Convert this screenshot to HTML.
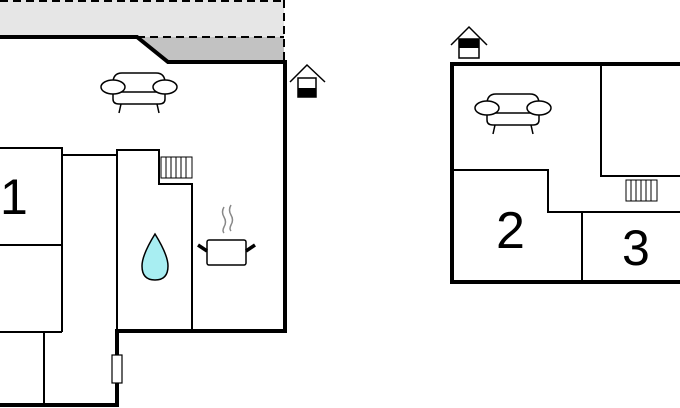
<!DOCTYPE html>
<html><head><style>
html,body{margin:0;padding:0;background:#fff;}
svg{display:block}
text{font-family:"Liberation Sans",sans-serif;fill:#000}
</style></head><body>
<svg width="680" height="408" viewBox="0 0 680 408" xmlns="http://www.w3.org/2000/svg">
<defs>
<g id="sofa" fill="#fff" stroke="#000" stroke-width="1.5">
  <path d="M-26,-6 Q-26,-16 -17,-16 L17,-16 Q26,-16 26,-6 L26,10 Q26,15 20,15 L-20,15 Q-26,15 -26,10 Z"/>
  <line x1="-22" y1="3" x2="22" y2="3"/>
  <ellipse cx="-26" cy="-2" rx="12" ry="7"/>
  <ellipse cx="26" cy="-2" rx="12" ry="7"/>
  <line x1="-18" y1="15" x2="-20" y2="24"/>
  <line x1="18" y1="15" x2="20" y2="24"/>
</g>
<g id="rad" fill="#fff" stroke="#000" stroke-width="1">
  <rect x="0" y="0" width="31" height="21"/>
  <line x1="5" y1="0" x2="5" y2="21"/><line x1="10" y1="0" x2="10" y2="21"/>
  <line x1="15" y1="0" x2="15" y2="21"/><line x1="20" y1="0" x2="20" y2="21"/>
  <line x1="25" y1="0" x2="25" y2="21"/>
</g>
</defs>
<rect x="0" y="0" width="284" height="37" fill="#e6e6e6"/>
<polygon points="137,37 284,37 284,62 168,62" fill="#c2c2c2"/>
<line x1="0" y1="1" x2="284" y2="1" stroke="#000" stroke-width="2" stroke-dasharray="8,5"/>
<line x1="284" y1="0" x2="284" y2="62" stroke="#000" stroke-width="2" stroke-dasharray="8,5"/>
<line x1="137" y1="37" x2="284" y2="37" stroke="#000" stroke-width="2" stroke-dasharray="8,5"/>
<polyline points="0,37 137,37 168,62 285,62 285,331 117,331 117,405 0,405" fill="none" stroke="#000" stroke-width="4"/>
<g fill="none" stroke="#000" stroke-width="2">
<polyline points="0,148 62,148 62,332"/>
<line x1="0" y1="245" x2="62" y2="245"/>
<line x1="0" y1="332" x2="62" y2="332"/>
<line x1="44" y1="332" x2="44" y2="405"/>
<line x1="62" y1="155" x2="117" y2="155"/>
<polyline points="117,331 117,150 159,150 159,184 192,184 192,331"/>
</g>
<rect x="112" y="355" width="10" height="28" fill="#fff" stroke="#000" stroke-width="1.2"/>
<text x="0" y="214" font-size="50">1</text>
<use href="#sofa" x="139" y="89"/>
<use href="#rad" x="161" y="157"/>
<path d="M155,234 Q168,255 168,266 Q168,280 155,280 Q142,280 142,266 Q142,255 155,234 Z" fill="#a8eef2" stroke="#000" stroke-width="1.5"/>
<g stroke="#888" stroke-width="1.5" fill="none">
<path d="M224,207 q-3,5 0,10 q3,5 0,10 q-2,4 0,6"/>
<path d="M231,205 q-3,5 0,10 q3,5 0,10 q-2,4 0,6"/>
</g>
<rect x="207" y="240" width="39" height="25" rx="2" fill="#fff" stroke="#000" stroke-width="1.5"/>
<line x1="198" y1="245" x2="207" y2="251" stroke="#000" stroke-width="3.5"/>
<line x1="246" y1="251" x2="255" y2="245" stroke="#000" stroke-width="3.5"/>
<g fill="none" stroke="#000" stroke-width="1.5">
<polyline points="290,82 307,65 325,82"/>
<rect x="298" y="78" width="18" height="19" fill="#fff"/>
</g>
<rect x="298" y="88" width="18" height="9" fill="#000"/>
<g fill="none" stroke="#000" stroke-width="1.5">
<polyline points="451,45 469,27 487,45"/>
<rect x="459" y="39" width="20" height="19" fill="#fff"/>
</g>
<rect x="459" y="39" width="20" height="9" fill="#000"/>
<g fill="none" stroke="#000" stroke-width="2">
<polyline points="601,63 601,176 680,176"/>
<polyline points="452,170 548,170 548,212 680,212"/>
<line x1="582" y1="212" x2="582" y2="282"/>
</g>
<polyline points="680,64 452,64 452,282 680,282" fill="none" stroke="#000" stroke-width="4"/>
<use href="#sofa" x="513" y="110"/>
<use href="#rad" x="626" y="180"/>
<text x="496" y="248" font-size="52">2</text>
<text x="622" y="265" font-size="50">3</text>
</svg>
</body></html>
